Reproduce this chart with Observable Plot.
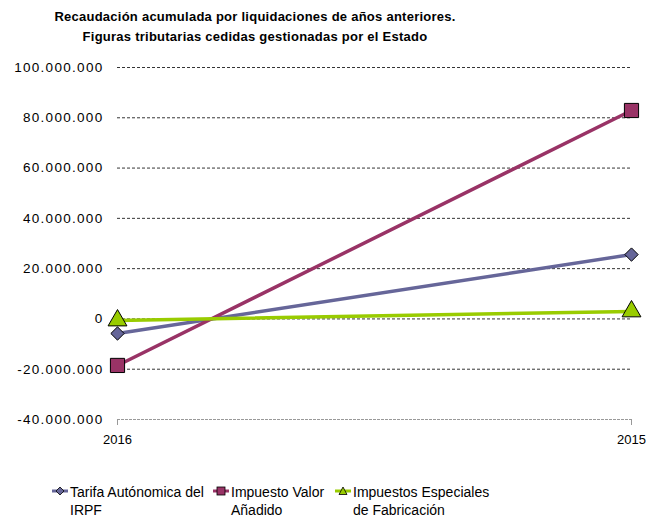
<!DOCTYPE html>
<html>
<head>
<meta charset="utf-8">
<script src="https://cdn.jsdelivr.net/npm/d3@7"></script>
<script src="https://cdn.jsdelivr.net/npm/@observablehq/plot@0.6"></script>
<style>
  body { margin: 0; background: #fff; font-family: "Liberation Sans", Arial, sans-serif; }
  #wrap { position: relative; width: 648px; height: 521px; }
  #title { position: absolute; top: 7px; left: 0; width: 510px; text-align: center; font-weight: bold; font-size: 13px; line-height: 20px; letter-spacing: 0.25px; color: #000; }
  #chart { position: absolute; top: 50px; left: 0; }
  #legend { position: absolute; top: 483px; left: 52px; font-size: 14px; line-height: 18px; color: #000; }
  .item { position: absolute; top: 0; white-space: nowrap; }
  .item svg { position: absolute; left: 0; top: 3px; }
  .item span { position: absolute; left: 18px; top: 0; }
</style>
</head>
<body>
<div id="wrap">
  <div id="title">Recaudación acumulada por liquidaciones de años anteriores.<br>Figuras tributarias cedidas gestionadas por el Estado</div>
  <div id="chart"></div>
  <div id="legend"></div>
</div>
<script>
const years = ["2016", "2015"];
const seriesNames = ["Tarifa Autónomica del IRPF", "Impuesto Valor Añadido", "Impuestos Especiales de Fabricación"];
const legendLines = [["Tarifa Autónomica del", "IRPF"], ["Impuesto Valor", "Añadido"], ["Impuestos Especiales", "de Fabricación"]];
const irpf = [-5800000, 25600000];
const iva = [-18500000, 82900000];
const ief = [-600000, 3000000];
const yTicks = [-40000000, -20000000, 0, 20000000, 40000000, 60000000, 80000000, 100000000];
const colors = ["#666699", "#993366", "#99CC00"];
const symbols = ["diamond2", "square", "triangle"];

const allValues = [irpf, iva, ief];
const data = [];
seriesNames.forEach((s, i) => years.forEach((y, j) => data.push({series: s, year: y, value: allValues[i][j]})));

const loc = d3.formatLocale({decimal: ",", thousands: ".", grouping: [3], currency: ["", "€"], minus: "-"});
const fmt = loc.format(",d");

const plot = Plot.plot({
  width: 648,
  height: 410,
  marginLeft: 117,
  marginRight: 17,
  marginTop: 17,
  marginBottom: 41,
  style: {fontFamily: "Liberation Sans, Arial, sans-serif", fontSize: "14px", color: "#000", background: "transparent"},
  x: {type: "point", domain: years, padding: 0, label: null},
  y: {domain: [-40000000, 100000000], ticks: yTicks, tickFormat: fmt, label: null},
  symbol: {domain: seriesNames, range: symbols},
  color: {domain: seriesNames, range: colors},
  marks: [
    Plot.ruleY(yTicks.filter(d => d > -40000000), {stroke: "#000", strokeWidth: 0.8, strokeDasharray: "3,2"}),
    Plot.ruleY([-40000000], {stroke: "#999", strokeWidth: 1, strokeDasharray: "3,1"}),
    Plot.axisX({tickSize: 6, stroke: "#999", tickPadding: 9, fontSize: 13}),
    Plot.axisY({ticks: yTicks, tickFormat: fmt, tickSize: 0, tickPadding: 14, fontSize: 13.5}),
    Plot.line(data, {x: "year", y: "value", z: "series", stroke: "series", strokeWidth: 3.5}),
    Plot.dot(data.filter(d => d.series === seriesNames[1]), {x: "year", y: "value", symbol: "series", fill: "series", stroke: "#000", strokeWidth: 1, r: 8}),
    Plot.dot(data.filter(d => d.series === seriesNames[0]), {x: "year", y: "value", symbol: "series", fill: "series", stroke: "#000", strokeWidth: 1, r: 6}),
    Plot.dot(data.filter(d => d.series === seriesNames[2]), {x: "year", y: "value", symbol: "series", fill: "series", stroke: "#000", strokeWidth: 1, r: 7})
  ]
});
d3.select(plot).selectAll("g[aria-label='y-axis tick label'] text").style("letter-spacing", "1.3px");
document.getElementById("chart").appendChild(plot);

const legend = document.getElementById("legend");
const lefts = [0, 161, 283];
seriesNames.forEach((s, i) => {
  const div = document.createElement("div");
  div.className = "item";
  div.style.left = lefts[i] + "px";
  let mk;
  if (i === 0) mk = '<path d="M8,1 L12,5 L8,9 L4,5 Z" fill="' + colors[0] + '" stroke="#000" stroke-width="0.8"/>';
  if (i === 1) mk = '<rect x="4" y="1" width="8" height="8" fill="' + colors[1] + '" stroke="#000" stroke-width="0.8"/>';
  if (i === 2) mk = '<path d="M8,1 L12,8.5 L4,8.5 Z" fill="' + colors[2] + '" stroke="#000" stroke-width="0.8"/>';
  div.innerHTML = '<svg width="16" height="11"><line x1="0" y1="5" x2="16" y2="5" stroke="' + colors[i] + '" stroke-width="3"/>' + mk + '</svg><span>' + legendLines[i][0] + '<br>' + legendLines[i][1] + '</span>';
  legend.appendChild(div);
});
</script>
</body>
</html>
